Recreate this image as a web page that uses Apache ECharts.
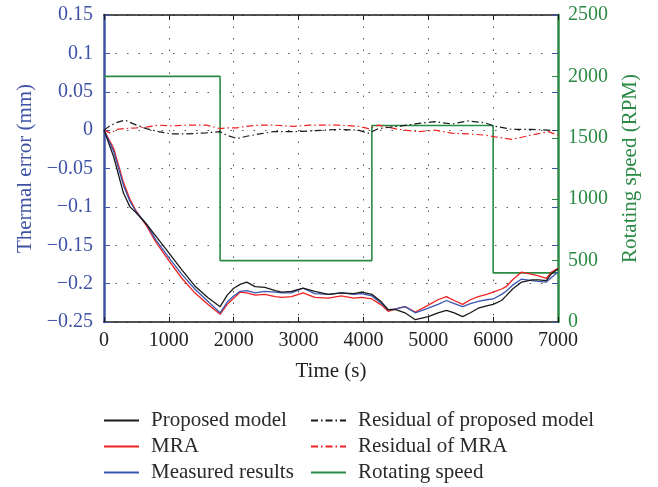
<!DOCTYPE html>
<html><head><meta charset="utf-8">
<script src="https://cdn.jsdelivr.net/npm/echarts@6/dist/echarts.min.js"></script>
<style>html,body{margin:0;padding:0;background:#fff}#c{width:658px;height:487px}</style>
</head><body><div id="c"></div>
<script>
// ---- data ----
const timeMain = [0,150,300,400,500,650,800,1000,1200,1400,1600,1790,1900,2000,2100,2200,2330,2480,2640,2740,2890,3070,3250,3460,3660,3850,3970,4130,4280,4380,4500,4640,4800,5000,5150,5280,5400,5530,5650,5770,5900,6000,6130,6200,6300,6440,6600,6700,6820,6900,7000];
const proposedModel = [0,-0.035,-0.082,-0.100,-0.108,-0.122,-0.138,-0.160,-0.182,-0.203,-0.218,-0.230,-0.215,-0.206,-0.201,-0.198,-0.204,-0.205,-0.209,-0.211,-0.210,-0.206,-0.210,-0.214,-0.212,-0.213,-0.211,-0.214,-0.224,-0.234,-0.234,-0.238,-0.247,-0.243,-0.238,-0.235,-0.238,-0.243,-0.238,-0.232,-0.229,-0.227,-0.222,-0.216,-0.207,-0.198,-0.195,-0.195,-0.196,-0.187,-0.181];
const mra = [0,-0.024,-0.068,-0.090,-0.106,-0.124,-0.146,-0.170,-0.193,-0.212,-0.227,-0.240,-0.227,-0.219,-0.211,-0.212,-0.215,-0.214,-0.217,-0.218,-0.217,-0.212,-0.218,-0.219,-0.216,-0.219,-0.218,-0.220,-0.228,-0.236,-0.233,-0.230,-0.237,-0.228,-0.221,-0.217,-0.222,-0.227,-0.221,-0.217,-0.214,-0.211,-0.207,-0.204,-0.195,-0.185,-0.188,-0.190,-0.193,-0.185,-0.180];
const measured = [0,-0.028,-0.072,-0.093,-0.107,-0.122,-0.143,-0.166,-0.188,-0.207,-0.223,-0.238,-0.224,-0.216,-0.210,-0.209,-0.212,-0.210,-0.211,-0.212,-0.212,-0.206,-0.213,-0.214,-0.212,-0.214,-0.213,-0.216,-0.226,-0.234,-0.233,-0.230,-0.238,-0.232,-0.227,-0.222,-0.226,-0.230,-0.226,-0.223,-0.221,-0.220,-0.214,-0.210,-0.202,-0.194,-0.196,-0.197,-0.198,-0.192,-0.185];

const timeResidual = [0,100,200,324,500,650,840,1040,1280,1580,1790,1890,2050,2200,2400,2610,2920,3180,3410,3610,3920,4080,4230,4540,4850,5100,5360,5620,5870,6030,6290,6590,6850,7000];
const residualProposed = [0,0.006,0.010,0.013,0.0065,0.002,-0.002,-0.005,-0.005,-0.0035,-0.002,-0.0065,-0.011,-0.008,-0.005,-0.002,-0.002,-0.001,0,0.001,0,-0.004,0.002,0.005,0.0087,0.011,0.008,0.012,0.0095,0.005,0.001,0.001,0,-0.001];
const residualMRA = [0,-0.004,0.001,0.002,0.003,0.004,0.0065,0.0055,0.0065,0.0065,0.002,0.003,0.003,0.005,0.0065,0.0065,0.005,0.0065,0.0065,0.0065,0.005,0.002,0.0065,0.001,-0.002,0,-0.004,-0.005,-0.0065,-0.0087,-0.012,-0.0065,-0.002,-0.0065];

const timeSpeed = [0,1790,1790,4130,4130,6000,6000,7000];
const rotatingSpeed = [2000,2000,500,500,1600,1600,400,400];

const xTicks = [0,1000,2000,3000,4000,5000,6000,7000];
const leftTicks = [-0.25,-0.2,-0.15,-0.1,-0.05,0,0.05,0.1,0.15];
const rightTicks = [0,500,1000,1500,2000,2500];

const seriesNames = ['Proposed model','MRA','Measured results','Residual of proposed model','Residual of MRA','Rotating speed'];

// ---- chart ----
const FONT = '"Liberation Serif","DejaVu Serif",serif';
const BLUE = '#3f53a6', GREEN = '#2b8a45', BLACK = '#1a1a1a', RED = '#ee2222', LBLUE = '#3a55b0';
const zip = (t, v) => t.map((x, i) => [x, v[i]]);
const fmt = v => String(Math.round(v * 100) / 100).replace('-', '\u2212');
const fmtInt = v => String(Math.round(v));

const chart = echarts.init(document.getElementById('c'), null, {renderer: 'canvas'});
const dash = [7, 3, 1.5, 3];
const legendCommon = {
  orient: 'vertical', top: 410, padding: 0, itemWidth: 35, itemHeight: 12, itemGap: 5,
  itemStyle: {opacity: 0},
  textStyle: {fontFamily: FONT, fontSize: 21, color: '#2a2a2a', lineHeight: 21, padding: [0, 0, 0, 7]}
};
chart.setOption({
  animation: false,
  backgroundColor: '#fff',
  grid: {left: 104, right: 100, top: 15, bottom: 165},
  legend: [
    Object.assign({data: seriesNames.slice(0, 3), left: 103}, legendCommon),
    Object.assign({data: seriesNames.slice(3), left: 310}, legendCommon)
  ],
  xAxis: [
    {type: 'value', min: xTicks[0], max: xTicks[xTicks.length - 1], interval: 1000, position: 'bottom',
     name: 'Time (s)', nameLocation: 'middle', nameGap: 39, nameMoveOverlap: false,
     nameTextStyle: {fontFamily: FONT, fontSize: 21, color: '#222'},
     axisLine: {onZero: false, lineStyle: {color: BLACK, width: 1.5}},
     axisTick: {inside: true, length: 5, lineStyle: {color: BLACK}},
     axisLabel: {fontFamily: FONT, fontSize: 20, color: '#222', margin: 9, formatter: fmtInt},
     splitLine: {show: true, lineStyle: {color: '#555', type: [1.5, 10], width: 1}}},
    {type: 'value', min: xTicks[0], max: xTicks[xTicks.length - 1], interval: 1000, position: 'top',
     axisLine: {onZero: false, lineStyle: {color: BLACK, width: 1.5}},
     axisTick: {inside: true, length: 5, lineStyle: {color: BLACK}},
     axisLabel: {show: false}, splitLine: {show: false}}
  ],
  yAxis: [
    {type: 'value', min: leftTicks[0], max: leftTicks[leftTicks.length - 1], interval: 0.05, position: 'left',
     name: 'Thermal error (mm)', nameLocation: 'middle', nameGap: 64, nameRotate: 90,
     nameTextStyle: {fontFamily: FONT, fontSize: 21, color: BLUE},
     axisLine: {onZero: false, lineStyle: {color: BLUE, width: 2.5}},
     axisTick: {inside: true, length: 6, lineStyle: {color: BLUE}},
     axisLabel: {fontFamily: FONT, fontSize: 20, color: BLUE, margin: 11, formatter: fmt},
     splitLine: {show: true, lineStyle: {color: '#555', type: [1.5, 10], width: 1}}},
    {type: 'value', min: rightTicks[0], max: rightTicks[rightTicks.length - 1], interval: 500, position: 'right',
     name: 'Rotating speed (RPM)', nameLocation: 'middle', nameGap: 62, nameRotate: 90,
     nameTextStyle: {fontFamily: FONT, fontSize: 21, color: GREEN},
     axisLine: {onZero: false, lineStyle: {color: GREEN, width: 2.5}},
     axisTick: {inside: true, length: 6, lineStyle: {color: GREEN}},
     axisLabel: {fontFamily: FONT, fontSize: 20, color: GREEN, margin: 10, formatter: fmtInt},
     splitLine: {show: false}},
    {type: 'value', min: leftTicks[0], max: leftTicks[leftTicks.length - 1], interval: 0.05, position: 'right',
     axisLine: {show: false, onZero: false},
     axisTick: {inside: true, length: 6, lineStyle: {color: BLUE}},
     axisLabel: {show: false}, splitLine: {show: false}}
  ],
  series: [
    {name: 'Rotating speed', type: 'line', yAxisIndex: 1, data: zip(timeSpeed, rotatingSpeed), symbol: 'none', z: 1,
     lineStyle: {color: GREEN, width: 1.6}, itemStyle: {color: GREEN}},
    {name: 'Residual of MRA', type: 'line', data: zip(timeResidual, residualMRA), symbol: 'none', z: 2,
     lineStyle: {color: RED, width: 1.2, type: dash}, itemStyle: {color: RED}},
    {name: 'Residual of proposed model', type: 'line', data: zip(timeResidual, residualProposed), symbol: 'none', z: 2,
     lineStyle: {color: BLACK, width: 1.2, type: dash}, itemStyle: {color: BLACK}},
    {name: 'MRA', type: 'line', data: zip(timeMain, mra), symbol: 'none', z: 3,
     lineStyle: {color: RED, width: 1.3}, itemStyle: {color: RED}},
    {name: 'Measured results', type: 'line', data: zip(timeMain, measured), symbol: 'none', z: 4,
     lineStyle: {color: LBLUE, width: 1.3}, itemStyle: {color: LBLUE}},
    {name: 'Proposed model', type: 'line', data: zip(timeMain, proposedModel), symbol: 'none', z: 5,
     lineStyle: {color: BLACK, width: 1.3}, itemStyle: {color: BLACK}}
  ]
});
</script></body></html>
